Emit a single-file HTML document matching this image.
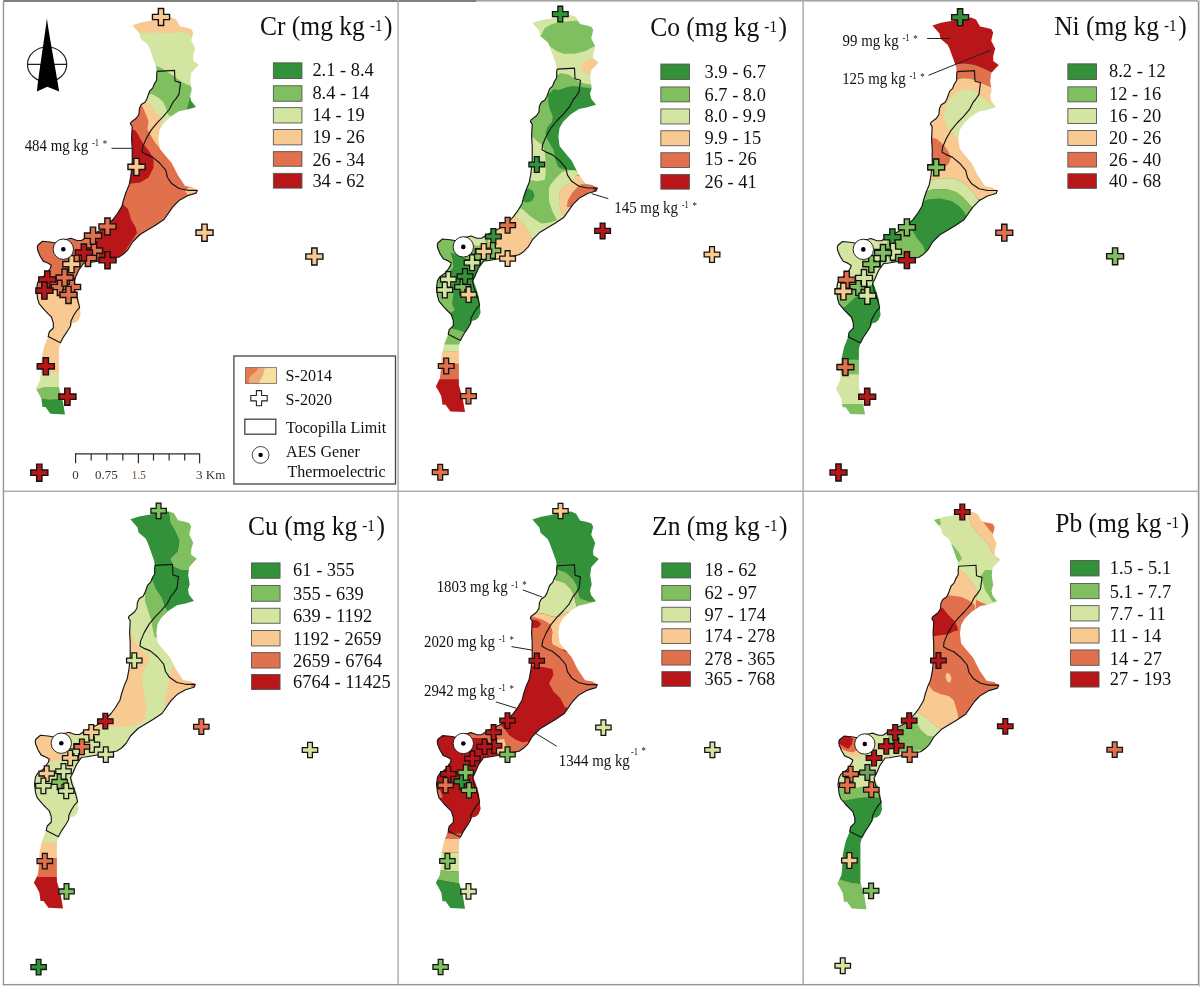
<!DOCTYPE html><html><head><meta charset="utf-8"><style>
html,body{margin:0;padding:0;background:#fff;}
svg{display:block;will-change:transform;}
text{font-family:"Liberation Serif",serif;}
</style></head><body>
<svg width="1200" height="987" viewBox="0 0 1200 987">
<defs>
<mask id="land" maskUnits="userSpaceOnUse" x="0" y="0" width="400" height="500"><polygon points="132.4,25.3 141.0,22.5 150.7,20.8 160.0,18.5 170.9,17.2 176.0,19.3 180.0,26.3 186.0,27.5 191.2,28.9 193.2,32.4 191.2,40.5 195.2,48.6 193.2,55.7 193.2,60.8 198.8,64.8 191.2,72.9 190.2,81.0 191.7,90.2 190.0,96.1 191.2,101.0 196.0,107.0 187.5,109.5 179.0,111.3 170.5,116.7 163.2,124.0 159.6,130.1 158.4,138.6 159.6,148.4 164.4,154.4 171.7,163.0 177.8,175.1 185.1,186.0 192.4,187.3 197.3,190.3 196.0,193.3 187.5,195.8 179.0,200.6 173.0,206.7 164.0,219.5 155.0,225.5 140.0,234.5 132.5,242.0 128.0,249.5 123.5,254.0 119.0,257.0 105.0,260.0 87.5,263.0 83.7,263.2 78.6,270.3 74.6,279.4 73.5,283.4 76.0,290.0 79.0,300.0 80.1,310.8 80.6,314.8 78.6,319.9 75.6,322.4 72.5,323.0 70.5,326.0 67.5,331.0 63.4,337.1 60.4,342.7 58.9,348.7 58.9,387.6 62.6,399.8 63.8,407.0 65.0,414.4 50.4,413.7 45.5,407.0 42.5,407.0 41.3,398.5 38.2,392.5 35.8,388.8 40.0,380.3 40.7,373.0 41.3,359.6 43.1,351.1 44.3,346.2 46.8,340.1 48.2,336.6 49.2,332.0 53.3,328.0 53.3,322.9 51.3,316.8 48.2,313.8 44.2,309.7 39.1,303.7 37.6,298.6 36.5,290.0 37.5,283.0 39.5,279.5 45.5,275.0 48.2,271.3 50.3,268.2 51.3,265.2 48.2,263.2 43.2,261.1 40.1,256.0 37.6,250.0 37.3,247.0 38.0,245.0 42.5,241.3 50.0,242.0 56.0,243.0 62.0,240.0 68.0,239.0 71.0,238.3 77.0,240.5 81.5,240.5 86.0,237.5 95.0,233.0 104.0,228.5 113.0,219.5 117.5,213.5 122.0,206.0 123.5,200.0 126.1,192.1 129.2,184.8 131.0,175.1 132.2,163.0 132.2,148.4 131.6,138.6 132.2,126.5 130.4,124.0 131.0,122.2 136.5,118.0 138.9,114.3 139.5,108.2 141.3,104.6 145.0,102.2 146.8,99.1 149.6,91.2 152.7,88.1 154.2,84.1 156.7,80.0 156.7,74.0 156.2,66.9 154.7,62.8 149.6,48.6 147.6,44.6 140.5,38.5 139.5,33.4" fill="#fff"/></mask>
<path id="cx" d="M-2.65,-8.55h5.3v5.9h5.9v5.3h-5.9v5.9h-5.3v-5.9h-5.9v-5.3h5.9z" stroke="#111" stroke-width="1.4"/>
</defs>
<rect width="1200" height="987" fill="#fff"/>

<g transform="translate(0.0,0.0)">
<g mask="url(#land)">
<rect x="0" y="0" width="400" height="490" fill="#e0714c"/>
<polygon points="100.0,30.0 220.0,30.0 220.0,135.0 100.0,135.0" fill="#d3e5a0"/>
<polygon points="100.0,0.0 220.0,0.0 220.0,37.5 191.7,37.5 189.0,33.4 181.0,31.4 171.0,33.0 150.7,32.4 139.5,33.4 100.0,33.4" fill="#f8c991"/>
<polygon points="156.6,66.1 163.1,68.9 170.4,73.8 176.9,78.6 183.3,82.7 190.6,85.9 192.3,87.6 220.0,90.0 220.0,109.0 186.6,109.4 181.7,111.0 173.6,115.1 170.4,116.7 168.8,115.1 167.1,111.9 165.5,107.0 163.1,102.1 159.0,98.1 151.7,94.0 147.7,94.8 140.0,90.0 140.0,66.0" fill="#7fbf5f"/>
<polygon points="190.0,97.0 205.0,100.0 205.0,110.0 186.6,109.4 188.2,104.6" fill="#33913a"/>
<polygon points="140.4,104.2 143.6,101.3 149.3,103.0 153.4,108.6 155.8,112.7 160.7,116.7 161.5,120.8 160.7,124.8 159.8,128.9 160.0,140.0 159.0,148.0 158.4,147.1 154.7,142.3 151.1,136.2 147.4,128.9 148.6,121.6 145.3,112.7 142.8,107.0" fill="#f8c991"/>
<polygon points="120.0,104.0 140.4,104.2 142.8,107.0 145.3,112.7 148.6,121.6 147.4,128.9 151.1,136.2 154.7,142.3 158.4,147.1 159.0,148.0 165.0,150.0 165.0,200.0 120.0,200.0" fill="#e0714c"/>
<polygon points="120.0,128.0 130.7,128.9 135.5,130.5 138.0,134.6 140.1,138.6 145.0,146.0 149.8,152.0 153.5,159.3 153.5,167.8 148.6,177.5 140.1,182.4 131.6,183.6 120.0,183.0" fill="#b91619"/>
<polygon points="188.8,187.3 196.0,187.3 200.0,191.0 187.5,194.6 185.1,191.0" fill="#f8c991"/>
<polygon points="118.0,200.0 123.5,204.5 128.0,209.0 131.0,219.5 135.5,227.0 137.0,233.0 131.0,242.0 125.0,251.0 119.0,257.0 110.0,262.0 100.0,262.0 97.0,245.0 96.0,234.0 104.0,228.5 113.0,219.5 117.5,213.5" fill="#b91619"/>
<polygon points="30.0,289.0 38.1,294.6 50.3,289.5 56.3,288.5 65.0,290.0 72.0,284.0 90.0,282.0 90.0,373.0 30.0,373.0" fill="#f8c991"/>
<polygon points="30.0,373.0 90.0,373.0 90.0,387.6 58.9,387.0 44.3,387.0 35.8,390.0 30.0,390.0" fill="#d3e5a0"/>
<polygon points="30.0,390.0 35.8,390.0 44.3,387.0 58.9,387.0 90.0,387.6 90.0,400.4 62.6,400.4 56.5,399.2 49.2,399.8 40.7,398.5 30.0,398.5" fill="#7fbf5f"/>
<polygon points="30.0,398.5 40.7,398.5 49.2,399.8 56.5,399.2 62.6,400.4 90.0,400.4 90.0,420.0 30.0,420.0" fill="#33913a"/>
</g>
<polyline points="157.2,71.4 174.5,70.4 175.0,81.0 180.5,82.6 179.0,94.2 175.5,99.3 173.0,102.2 169.3,109.5 163.2,116.7 157.1,122.8 151.1,130.1 146.2,138.6 142.6,147.1 142.0,152.0 146.2,154.4 152.3,156.9 159.6,163.0 165.7,170.2 167.5,177.5 171.7,183.6 179.0,188.5 187.5,190.3 197.3,190.3 196.0,193.3 187.5,195.8 179.0,200.6 173.0,206.7 164.0,219.5 155.0,225.5 140.0,234.5 132.5,242.0 128.0,249.5 123.5,254.0 119.0,257.0 105.0,260.0 87.5,263.0 83.7,263.2 78.6,270.3 74.6,279.4 72.5,283.4 74.0,290.0 77.6,299.6 79.6,307.7 76.6,310.8 73.5,315.8 71.0,320.9 70.5,326.0 67.5,331.0 63.4,337.1 60.4,342.7 48.2,336.6 49.2,332.0 53.3,328.0 53.3,322.9 51.3,316.8 48.2,313.8 44.2,309.7 39.1,303.7 37.6,298.6 36.5,290.0 37.5,283.0 39.5,279.5 45.5,275.0 48.2,271.3 50.3,268.2 51.3,265.2 48.2,263.2 43.2,261.1 40.1,256.0 37.6,250.0 37.3,247.0 38.0,245.0 42.5,241.3 50.0,242.0 56.0,243.0 62.0,240.0 68.0,239.0 71.0,238.3 77.0,240.5 81.5,240.5 86.0,237.5 95.0,233.0 104.0,228.5 113.0,219.5 117.5,213.5 122.0,206.0 123.5,200.0 126.1,192.1 129.2,184.8 131.0,175.1 132.2,163.0 132.2,148.4 131.6,138.6 132.2,126.5 130.4,124.0 131.0,122.2 136.5,118.0 138.9,114.3 139.5,108.2 141.3,104.6 145.0,102.2 146.8,99.1 149.6,91.2 152.7,88.1 154.2,84.1 156.7,80.0 156.7,74.0 157.2,71.4" fill="none" stroke="#151515" stroke-width="1.15" stroke-linejoin="round"/>
<use href="#cx" transform="translate(161.00,17.00) scale(1.000)" fill="#f8c991"/>
<use href="#cx" transform="translate(136.50,166.90) scale(1.000)" fill="#f8c991"/>
<use href="#cx" transform="translate(204.50,232.70) scale(1.000)" fill="#f8c991"/>
<use href="#cx" transform="translate(314.40,256.50) scale(1.000)" fill="#f8c991"/>
<use href="#cx" transform="translate(94.00,250.60) scale(1.000)" fill="#e0714c"/>
<use href="#cx" transform="translate(88.00,258.00) scale(1.000)" fill="#e0714c"/>
<use href="#cx" transform="translate(60.00,287.00) scale(1.000)" fill="#e0714c"/>
<use href="#cx" transform="translate(72.00,287.00) scale(1.000)" fill="#e0714c"/>
<use href="#cx" transform="translate(107.50,226.50) scale(1.000)" fill="#e0714c"/>
<use href="#cx" transform="translate(93.00,235.70) scale(1.000)" fill="#e0714c"/>
<use href="#cx" transform="translate(83.90,252.50) scale(1.000)" fill="#b91619"/>
<use href="#cx" transform="translate(107.50,260.20) scale(1.000)" fill="#b91619"/>
<use href="#cx" transform="translate(71.40,264.10) scale(1.000)" fill="#f8c991"/>
<use href="#cx" transform="translate(64.60,277.60) scale(1.000)" fill="#e0714c"/>
<use href="#cx" transform="translate(47.30,279.50) scale(1.000)" fill="#b91619"/>
<use href="#cx" transform="translate(44.40,290.60) scale(1.000)" fill="#b91619"/>
<use href="#cx" transform="translate(68.50,294.90) scale(1.000)" fill="#e0714c"/>
<use href="#cx" transform="translate(45.80,366.30) scale(1.000)" fill="#b91619"/>
<use href="#cx" transform="translate(67.40,396.70) scale(1.000)" fill="#b91619"/>
<use href="#cx" transform="translate(39.30,472.70) scale(1.000)" fill="#b91619"/>
<circle cx="63.3" cy="249.2" r="10.2" fill="#fff" stroke="#111" stroke-width="0.9"/><circle cx="63.3" cy="249.2" r="2.3" fill="#000"/>
</g>
<g transform="translate(400.0,-2.3)">
<g mask="url(#land)">
<rect x="0" y="0" width="400" height="490" fill="#7fbf5f"/>
<polygon points="120.0,2.3 215.0,2.3 215.0,29.6 192.0,29.6 183.8,26.9 176.5,22.8 167.4,23.7 158.3,24.6 151.0,26.9 144.6,30.6 141.4,37.4 120.0,37.3" fill="#d3e5a0"/>
<polygon points="120.0,42.3 147.3,44.2 150.1,48.8 156.5,53.3 163.8,56.1 174.7,56.1 185.6,53.3 193.8,48.8 215.0,47.3 215.0,87.3 190.2,86.9 185.6,86.0 179.3,84.2 174.7,80.5 168.3,76.9 161.0,75.5 157.4,76.9 120.0,77.3" fill="#d3e5a0"/>
<polygon points="181.1,68.8 183.8,64.3 192.0,60.6 197.5,64.3 196.6,67.0 191.1,71.6 188.4,77.0 183.8,74.3" fill="#f8c991"/>
<polygon points="153.7,91.5 159.2,92.4 166.5,89.6 172.9,88.3 183.8,89.6 190.2,90.6 215.0,90.3 215.0,174.3 174.7,172.4 171.3,172.4 162.4,171.3 158.0,169.1 155.7,162.4 153.5,152.3 147.3,141.6 145.5,135.2 147.3,129.8 151.9,124.3 152.8,118.8 150.1,112.4 148.3,105.1 148.3,96.9" fill="#33913a"/>
<polygon points="120.0,132.3 130.9,138.0 138.2,144.3 142.4,147.3 144.6,153.4 145.7,164.6 145.7,175.7 144.6,182.4 136.8,183.5 130.1,182.4 120.0,182.3" fill="#d3e5a0"/>
<polygon points="122.0,192.3 128.0,190.8 133.0,193.3 134.5,198.3 132.0,203.3 127.0,204.8 122.0,203.3" fill="#33913a"/>
<polygon points="166.9,172.8 175.0,172.8 180.0,176.3 175.8,178.0 171.3,184.7 162.4,189.1 159.1,195.8 159.1,204.7 161.3,213.6 163.5,219.2 165.0,224.3 156.9,222.3 152.4,213.6 149.0,203.6 149.0,190.3 151.0,186.3 156.0,180.3 162.0,174.3" fill="#d3e5a0"/>
<polygon points="175.8,178.0 182.0,178.3 184.0,186.3 180.3,186.9 172.5,194.7 168.0,202.5 166.9,209.2 170.2,209.2 175.0,214.3 165.0,224.3 163.5,219.2 161.3,213.6 159.1,204.7 159.1,195.8 162.4,189.1 171.3,184.7" fill="#f8c991"/>
<polygon points="180.3,186.9 192.5,186.9 198.0,191.3 188.1,195.8 178.0,202.5 170.2,209.2 166.9,209.2 168.0,202.5 172.5,194.7" fill="#e0714c"/>
<polygon points="193.0,189.6 198.0,189.8 198.0,193.1 193.5,193.1" fill="#b91619"/>
<polygon points="110.0,207.3 122.3,211.4 131.2,219.2 141.2,225.9 150.2,224.8 156.9,222.6 165.0,224.3 145.0,242.3 132.3,242.6 129.0,233.7 122.3,224.8 114.5,218.1 105.0,214.3" fill="#d3e5a0"/>
<polygon points="105.0,210.3 114.5,218.1 122.3,224.8 129.0,233.7 132.3,242.6 130.0,252.3 120.0,262.3 100.0,264.3 90.0,257.3 88.0,242.3 95.0,227.3" fill="#f8c991"/>
<polygon points="68.0,239.3 76.0,236.3 84.0,238.3 86.0,245.3 78.0,248.3 70.0,246.3" fill="#d3e5a0"/>
<polygon points="50.3,254.9 60.0,258.3 75.0,264.3 85.0,268.3 90.0,282.3 85.0,302.3 88.0,322.3 70.0,336.3 56.2,331.9 50.5,330.5 45.0,320.3 54.8,312.1 52.0,306.4 53.4,296.5 51.3,289.3 53.4,282.3 50.3,275.1 53.4,269.0 52.4,260.9" fill="#33913a"/>
<polygon points="20.0,346.8 80.0,346.8 80.0,353.9 20.0,353.9" fill="#d3e5a0"/>
<polygon points="20.0,353.9 80.0,353.9 80.0,366.0 20.0,366.0" fill="#f8c991"/>
<polygon points="20.0,366.0 80.0,366.0 80.0,381.6 20.0,381.6" fill="#e0714c"/>
<polygon points="20.0,381.6 80.0,381.6 80.0,432.3 20.0,432.3" fill="#b91619"/>
</g>
<polyline points="157.2,71.4 174.5,70.4 175.0,81.0 180.5,82.6 179.0,94.2 175.5,99.3 173.0,102.2 169.3,109.5 163.2,116.7 157.1,122.8 151.1,130.1 146.2,138.6 142.6,147.1 142.0,152.0 146.2,154.4 152.3,156.9 159.6,163.0 165.7,170.2 167.5,177.5 171.7,183.6 179.0,188.5 187.5,190.3 197.3,190.3 196.0,193.3 187.5,195.8 179.0,200.6 173.0,206.7 164.0,219.5 155.0,225.5 140.0,234.5 132.5,242.0 128.0,249.5 123.5,254.0 119.0,257.0 105.0,260.0 87.5,263.0 83.7,263.2 78.6,270.3 74.6,279.4 72.5,283.4 74.0,290.0 77.6,299.6 79.6,307.7 76.6,310.8 73.5,315.8 71.0,320.9 70.5,326.0 67.5,331.0 63.4,337.1 60.4,342.7 48.2,336.6 49.2,332.0 53.3,328.0 53.3,322.9 51.3,316.8 48.2,313.8 44.2,309.7 39.1,303.7 37.6,298.6 36.5,290.0 37.5,283.0 39.5,279.5 45.5,275.0 48.2,271.3 50.3,268.2 51.3,265.2 48.2,263.2 43.2,261.1 40.1,256.0 37.6,250.0 37.3,247.0 38.0,245.0 42.5,241.3 50.0,242.0 56.0,243.0 62.0,240.0 68.0,239.0 71.0,238.3 77.0,240.5 81.5,240.5 86.0,237.5 95.0,233.0 104.0,228.5 113.0,219.5 117.5,213.5 122.0,206.0 123.5,200.0 126.1,192.1 129.2,184.8 131.0,175.1 132.2,163.0 132.2,148.4 131.6,138.6 132.2,126.5 130.4,124.0 131.0,122.2 136.5,118.0 138.9,114.3 139.5,108.2 141.3,104.6 145.0,102.2 146.8,99.1 149.6,91.2 152.7,88.1 154.2,84.1 156.7,80.0 156.7,74.0 157.2,71.4" fill="none" stroke="#151515" stroke-width="1.15" stroke-linejoin="round"/>
<use href="#cx" transform="translate(160.30,16.40) scale(0.919)" fill="#33913a"/>
<use href="#cx" transform="translate(136.80,166.80) scale(0.919)" fill="#33913a"/>
<use href="#cx" transform="translate(107.60,227.50) scale(0.919)" fill="#e0714c"/>
<use href="#cx" transform="translate(93.40,238.80) scale(0.919)" fill="#33913a"/>
<use href="#cx" transform="translate(92.90,252.80) scale(0.919)" fill="#7fbf5f"/>
<use href="#cx" transform="translate(77.70,258.90) scale(0.919)" fill="#7fbf5f"/>
<use href="#cx" transform="translate(83.80,253.80) scale(0.919)" fill="#f8c991"/>
<use href="#cx" transform="translate(107.60,260.90) scale(0.919)" fill="#f8c991"/>
<use href="#cx" transform="translate(62.50,289.30) scale(0.919)" fill="#7fbf5f"/>
<use href="#cx" transform="translate(72.10,265.00) scale(0.919)" fill="#d3e5a0"/>
<use href="#cx" transform="translate(65.00,278.70) scale(0.919)" fill="#33913a"/>
<use href="#cx" transform="translate(48.30,281.70) scale(0.919)" fill="#d3e5a0"/>
<use href="#cx" transform="translate(44.80,292.30) scale(0.919)" fill="#d3e5a0"/>
<use href="#cx" transform="translate(68.60,296.90) scale(0.919)" fill="#f8c991"/>
<use href="#cx" transform="translate(202.60,233.20) scale(0.919)" fill="#b91619"/>
<use href="#cx" transform="translate(312.00,256.80) scale(0.919)" fill="#f8c991"/>
<use href="#cx" transform="translate(46.20,368.30) scale(0.919)" fill="#e0714c"/>
<use href="#cx" transform="translate(68.50,398.40) scale(0.919)" fill="#e0714c"/>
<use href="#cx" transform="translate(40.20,474.50) scale(0.919)" fill="#e0714c"/>
<circle cx="63.3" cy="249.2" r="10.2" fill="#fff" stroke="#111" stroke-width="0.9"/><circle cx="63.3" cy="249.2" r="2.3" fill="#000"/>
</g>
<g transform="translate(800.0,0.2)">
<g mask="url(#land)">
<rect x="0" y="0" width="400" height="490" fill="#33913a"/>
<polygon points="120.0,-0.2 210.0,-0.2 210.0,72.8 191.1,72.1 183.8,68.5 174.7,64.8 165.6,63.5 155.6,63.9 120.0,63.8" fill="#b91619"/>
<polygon points="120.0,63.8 155.6,63.9 165.6,63.5 174.7,64.8 183.8,68.5 191.1,72.1 210.0,72.8 210.0,87.8 190.2,86.7 183.8,84.0 176.5,80.8 171.0,78.5 162.8,78.0 157.4,79.4 120.0,79.8" fill="#e0714c"/>
<polygon points="120.0,79.8 157.4,79.4 162.8,78.0 171.0,78.5 176.5,80.8 183.8,84.0 190.2,86.7 210.0,87.8 210.0,199.8 177.9,199.1 173.3,192.7 167.9,186.3 160.6,180.8 151.5,178.1 138.7,178.1 129.6,180.8 115.0,181.8" fill="#f8c991"/>
<polygon points="146.4,105.8 150.1,97.6 156.5,92.2 163.8,89.4 171.0,89.9 176.5,92.2 182.0,96.7 187.5,101.3 192.9,105.8 200.0,107.8 200.0,129.8 162.0,139.8 157.4,137.8 154.6,135.0 150.1,130.5 145.5,123.2 143.7,114.1" fill="#d3e5a0"/>
<polygon points="130.5,137.1 136.9,138.9 144.2,145.3 148.7,151.7 150.6,158.1 148.7,163.5 144.2,167.2 137.8,169.0 132.3,169.9 120.0,169.8 120.0,136.8" fill="#e0714c"/>
<polygon points="115.0,181.8 129.6,180.8 138.7,178.1 151.5,178.1 160.6,180.8 167.9,186.3 173.3,192.7 177.9,199.1 190.0,209.8 173.3,209.1 169.7,204.5 163.3,197.3 156.0,191.8 146.9,189.1 133.2,189.1 124.1,191.8 115.0,192.8" fill="#d3e5a0"/>
<polygon points="115.0,192.8 124.1,191.8 133.2,189.1 146.9,189.1 156.0,191.8 163.3,197.3 169.7,204.5 173.3,209.1 190.0,214.8 167.0,217.3 164.2,211.8 158.8,205.5 151.5,200.9 140.5,198.2 128.7,199.1 120.5,201.8 115.0,202.8" fill="#7fbf5f"/>
<polygon points="25.0,229.8 85.0,231.8 93.0,239.8 91.0,261.8 80.0,271.8 72.0,284.8 60.0,287.8 50.0,286.8 25.0,289.8" fill="#d3e5a0"/>
<polygon points="92.0,229.8 112.0,229.9 117.5,238.8 123.1,245.5 125.3,252.2 120.0,261.8 100.0,262.8 88.0,257.8 86.0,244.8" fill="#7fbf5f"/>
<polygon points="25.0,286.8 50.0,286.8 60.0,287.8 71.8,287.8 61.8,292.3 52.9,299.0 44.8,306.9 25.0,309.8" fill="#7fbf5f"/>
<polygon points="20.0,359.6 80.0,359.6 80.0,374.1 20.0,374.1" fill="#7fbf5f"/>
<polygon points="20.0,374.1 80.0,374.1 80.0,404.4 20.0,404.4" fill="#d3e5a0"/>
<polygon points="20.0,404.4 80.0,404.4 80.0,429.8 20.0,429.8" fill="#7fbf5f"/>
</g>
<polyline points="157.2,71.4 174.5,70.4 175.0,81.0 180.5,82.6 179.0,94.2 175.5,99.3 173.0,102.2 169.3,109.5 163.2,116.7 157.1,122.8 151.1,130.1 146.2,138.6 142.6,147.1 142.0,152.0 146.2,154.4 152.3,156.9 159.6,163.0 165.7,170.2 167.5,177.5 171.7,183.6 179.0,188.5 187.5,190.3 197.3,190.3 196.0,193.3 187.5,195.8 179.0,200.6 173.0,206.7 164.0,219.5 155.0,225.5 140.0,234.5 132.5,242.0 128.0,249.5 123.5,254.0 119.0,257.0 105.0,260.0 87.5,263.0 83.7,263.2 78.6,270.3 74.6,279.4 72.5,283.4 74.0,290.0 77.6,299.6 79.6,307.7 76.6,310.8 73.5,315.8 71.0,320.9 70.5,326.0 67.5,331.0 63.4,337.1 60.4,342.7 48.2,336.6 49.2,332.0 53.3,328.0 53.3,322.9 51.3,316.8 48.2,313.8 44.2,309.7 39.1,303.7 37.6,298.6 36.5,290.0 37.5,283.0 39.5,279.5 45.5,275.0 48.2,271.3 50.3,268.2 51.3,265.2 48.2,263.2 43.2,261.1 40.1,256.0 37.6,250.0 37.3,247.0 38.0,245.0 42.5,241.3 50.0,242.0 56.0,243.0 62.0,240.0 68.0,239.0 71.0,238.3 77.0,240.5 81.5,240.5 86.0,237.5 95.0,233.0 104.0,228.5 113.0,219.5 117.5,213.5 122.0,206.0 123.5,200.0 126.1,192.1 129.2,184.8 131.0,175.1 132.2,163.0 132.2,148.4 131.6,138.6 132.2,126.5 130.4,124.0 131.0,122.2 136.5,118.0 138.9,114.3 139.5,108.2 141.3,104.6 145.0,102.2 146.8,99.1 149.6,91.2 152.7,88.1 154.2,84.1 156.7,80.0 156.7,74.0 157.2,71.4" fill="none" stroke="#151515" stroke-width="1.15" stroke-linejoin="round"/>
<use href="#cx" transform="translate(160.10,17.00) scale(0.989)" fill="#33913a"/>
<use href="#cx" transform="translate(136.20,167.20) scale(0.989)" fill="#7fbf5f"/>
<use href="#cx" transform="translate(106.90,227.10) scale(0.989)" fill="#7fbf5f"/>
<use href="#cx" transform="translate(92.40,237.10) scale(0.989)" fill="#33913a"/>
<use href="#cx" transform="translate(93.00,251.60) scale(0.989)" fill="#d3e5a0"/>
<use href="#cx" transform="translate(77.40,257.80) scale(0.989)" fill="#d3e5a0"/>
<use href="#cx" transform="translate(83.00,252.70) scale(0.989)" fill="#7fbf5f"/>
<use href="#cx" transform="translate(106.90,260.00) scale(0.989)" fill="#b91619"/>
<use href="#cx" transform="translate(71.30,263.90) scale(0.989)" fill="#7fbf5f"/>
<use href="#cx" transform="translate(58.40,286.70) scale(0.989)" fill="#7fbf5f"/>
<use href="#cx" transform="translate(64.00,277.80) scale(0.989)" fill="#d3e5a0"/>
<use href="#cx" transform="translate(46.70,279.50) scale(0.989)" fill="#e0714c"/>
<use href="#cx" transform="translate(43.40,291.20) scale(0.989)" fill="#f8c991"/>
<use href="#cx" transform="translate(67.40,295.60) scale(0.989)" fill="#d3e5a0"/>
<use href="#cx" transform="translate(45.40,366.90) scale(0.989)" fill="#e0714c"/>
<use href="#cx" transform="translate(67.20,396.50) scale(0.989)" fill="#b91619"/>
<use href="#cx" transform="translate(204.30,232.50) scale(0.989)" fill="#e0714c"/>
<use href="#cx" transform="translate(315.10,256.10) scale(0.989)" fill="#7fbf5f"/>
<use href="#cx" transform="translate(38.50,472.30) scale(0.989)" fill="#b91619"/>
<circle cx="63.3" cy="249.2" r="10.2" fill="#fff" stroke="#111" stroke-width="0.9"/><circle cx="63.3" cy="249.2" r="2.3" fill="#000"/>
</g>
<g transform="translate(-2.0,494.0)">
<g mask="url(#land)">
<rect x="0" y="0" width="400" height="490" fill="#d3e5a0"/>
<polygon points="122.0,11.0 171.3,17.7 172.8,28.4 177.3,36.0 181.9,46.6 180.4,57.2 172.8,64.8 175.8,72.4 183.4,75.5 202.0,76.0 202.0,111.0 177.0,116.0 170.0,118.0 166.7,113.5 163.7,104.3 157.6,95.2 154.6,87.6 150.0,82.0 122.0,82.0" fill="#33913a"/>
<polygon points="171.3,17.7 177.0,11.0 202.0,11.0 202.0,75.5 183.4,75.5 175.8,72.4 172.8,64.8 180.4,57.2 181.9,46.6 177.3,36.0 172.8,28.4" fill="#7fbf5f"/>
<polygon points="142.0,82.0 150.0,82.0 154.6,87.6 157.6,95.2 163.7,104.3 166.7,113.5 170.0,118.0 165.0,124.0 161.6,128.0 160.6,134.0 159.6,143.2 156.6,143.2 154.6,134.1 153.0,125.6 150.0,116.5 147.0,107.4 147.0,98.3 142.0,96.0" fill="#7fbf5f"/>
<polygon points="117.0,131.0 132.3,136.1 137.3,148.3 142.4,155.4 149.5,160.4 151.5,166.5 147.5,173.6 144.4,180.7 144.4,191.9 146.4,203.0 148.5,214.1 147.5,224.0 142.0,230.0 137.0,231.6 125.1,233.3 111.7,233.3 98.3,235.0 87.0,238.0 82.0,206.0 102.0,186.0 117.0,146.0" fill="#f8c991"/>
<polygon points="174.8,173.6 171.8,180.7 170.8,188.8 168.7,199.0 166.7,207.0 165.7,212.1 172.0,212.0 202.0,196.0 202.0,171.0 182.0,166.0" fill="#f8c991"/>
<polygon points="193.5,188.5 199.0,190.0 197.0,193.5 193.0,192.5" fill="#e0714c"/>
<polygon points="32.0,234.0 69.4,237.0 73.0,238.3 73.8,255.0 69.4,259.5 66.0,265.1 54.9,267.9 49.3,268.4 32.0,268.0" fill="#f8c991"/>
<polygon points="22.0,348.7 82.0,348.7 82.0,363.9 22.0,363.9" fill="#f8c991"/>
<polygon points="22.0,363.9 82.0,363.9 82.0,383.0 22.0,383.0" fill="#e0714c"/>
<polygon points="22.0,383.0 82.0,383.0 82.0,436.0 22.0,436.0" fill="#b91619"/>
</g>
<polyline points="157.2,71.4 174.5,70.4 175.0,81.0 180.5,82.6 179.0,94.2 175.5,99.3 173.0,102.2 169.3,109.5 163.2,116.7 157.1,122.8 151.1,130.1 146.2,138.6 142.6,147.1 142.0,152.0 146.2,154.4 152.3,156.9 159.6,163.0 165.7,170.2 167.5,177.5 171.7,183.6 179.0,188.5 187.5,190.3 197.3,190.3 196.0,193.3 187.5,195.8 179.0,200.6 173.0,206.7 164.0,219.5 155.0,225.5 140.0,234.5 132.5,242.0 128.0,249.5 123.5,254.0 119.0,257.0 105.0,260.0 87.5,263.0 83.7,263.2 78.6,270.3 74.6,279.4 72.5,283.4 74.0,290.0 77.6,299.6 79.6,307.7 76.6,310.8 73.5,315.8 71.0,320.9 70.5,326.0 67.5,331.0 63.4,337.1 60.4,342.7 48.2,336.6 49.2,332.0 53.3,328.0 53.3,322.9 51.3,316.8 48.2,313.8 44.2,309.7 39.1,303.7 37.6,298.6 36.5,290.0 37.5,283.0 39.5,279.5 45.5,275.0 48.2,271.3 50.3,268.2 51.3,265.2 48.2,263.2 43.2,261.1 40.1,256.0 37.6,250.0 37.3,247.0 38.0,245.0 42.5,241.3 50.0,242.0 56.0,243.0 62.0,240.0 68.0,239.0 71.0,238.3 77.0,240.5 81.5,240.5 86.0,237.5 95.0,233.0 104.0,228.5 113.0,219.5 117.5,213.5 122.0,206.0 123.5,200.0 126.1,192.1 129.2,184.8 131.0,175.1 132.2,163.0 132.2,148.4 131.6,138.6 132.2,126.5 130.4,124.0 131.0,122.2 136.5,118.0 138.9,114.3 139.5,108.2 141.3,104.6 145.0,102.2 146.8,99.1 149.6,91.2 152.7,88.1 154.2,84.1 156.7,80.0 156.7,74.0 157.2,71.4" fill="none" stroke="#151515" stroke-width="1.15" stroke-linejoin="round"/>
<use href="#cx" transform="translate(160.60,16.80) scale(0.903)" fill="#7fbf5f"/>
<use href="#cx" transform="translate(136.30,166.50) scale(0.903)" fill="#d3e5a0"/>
<use href="#cx" transform="translate(107.30,227.20) scale(0.903)" fill="#b91619"/>
<use href="#cx" transform="translate(93.90,250.60) scale(0.903)" fill="#d3e5a0"/>
<use href="#cx" transform="translate(78.30,257.30) scale(0.903)" fill="#d3e5a0"/>
<use href="#cx" transform="translate(93.30,238.30) scale(0.903)" fill="#f8c991"/>
<use href="#cx" transform="translate(83.90,252.80) scale(0.903)" fill="#e0714c"/>
<use href="#cx" transform="translate(107.80,260.60) scale(0.903)" fill="#d3e5a0"/>
<use href="#cx" transform="translate(72.20,264.00) scale(0.903)" fill="#f8c991"/>
<use href="#cx" transform="translate(61.60,287.90) scale(0.903)" fill="#7fbf5f"/>
<use href="#cx" transform="translate(65.50,277.30) scale(0.903)" fill="#d3e5a0"/>
<use href="#cx" transform="translate(48.70,279.60) scale(0.903)" fill="#f8c991"/>
<use href="#cx" transform="translate(45.40,291.80) scale(0.903)" fill="#d3e5a0"/>
<use href="#cx" transform="translate(68.20,296.90) scale(0.903)" fill="#d3e5a0"/>
<use href="#cx" transform="translate(46.80,367.10) scale(0.903)" fill="#e0714c"/>
<use href="#cx" transform="translate(68.50,397.40) scale(0.903)" fill="#7fbf5f"/>
<use href="#cx" transform="translate(203.30,232.70) scale(0.903)" fill="#e0714c"/>
<use href="#cx" transform="translate(312.00,256.00) scale(0.903)" fill="#d3e5a0"/>
<use href="#cx" transform="translate(40.60,473.10) scale(0.903)" fill="#33913a"/>
<circle cx="63.3" cy="249.2" r="10.2" fill="#fff" stroke="#111" stroke-width="0.9"/><circle cx="63.3" cy="249.2" r="2.3" fill="#000"/>
</g>
<g transform="translate(400.0,494.3)">
<g mask="url(#land)">
<rect x="0" y="0" width="400" height="490" fill="#b91619"/>
<polygon points="120.0,10.7 210.0,10.7 210.0,107.1 195.1,107.1 189.0,107.1 179.9,104.0 176.9,94.9 176.9,91.9 173.8,85.8 166.2,78.2 157.1,75.2 120.0,75.7" fill="#33913a"/>
<polygon points="120.0,75.7 157.1,75.2 166.2,78.2 173.8,85.8 176.9,91.9 176.9,94.9 179.9,104.0 189.0,107.1 210.0,107.1 210.0,111.7 186.0,110.1 177.0,113.2 175.3,107.1 173.8,101.0 170.8,94.9 164.7,88.8 155.6,85.8 120.0,85.7" fill="#7fbf5f"/>
<polygon points="120.0,85.7 155.6,85.8 164.7,88.8 170.8,94.9 173.8,101.0 175.3,107.1 177.0,113.2 186.0,110.1 210.0,111.7 210.0,125.7 166.9,117.9 159.1,122.4 152.4,122.4 142.4,119.0 132.3,120.2 120.0,120.7" fill="#d3e5a0"/>
<polygon points="120.0,120.7 132.3,120.2 142.4,119.0 152.4,122.4 159.1,122.4 166.9,117.9 200.0,125.7 200.0,165.7 161.3,154.7 159.1,153.6 152.4,150.3 151.3,144.7 152.4,138.0 150.2,130.2 142.4,125.7 132.3,122.4 120.0,122.7" fill="#f8c991"/>
<polygon points="120.0,122.7 132.3,122.4 142.4,125.7 150.2,130.2 152.4,138.0 151.3,144.7 152.4,150.3 159.1,153.6 161.3,154.7 166.0,157.7 210.0,165.7 210.0,225.7 164.7,212.7 160.2,203.8 153.5,197.1 149.1,189.3 153.5,180.4 152.4,174.8 142.4,172.6 132.3,171.4 120.0,170.7" fill="#e0714c"/>
<polygon points="132.3,125.2 137.9,126.3 141.2,129.7 137.9,133.5 132.3,133.5 125.0,130.7" fill="#b91619"/>
<polygon points="69.0,236.7 87.0,236.7 94.0,231.7 100.0,229.7 105.3,235.8 109.7,241.4 116.4,245.8 123.1,248.1 127.6,246.9 130.0,253.7 115.0,261.7 100.0,261.7 92.0,253.7 86.0,243.7 70.0,243.7" fill="#e0714c"/>
<polygon points="96.0,245.7 104.0,244.7 106.0,251.7 104.0,258.7 96.0,258.7 94.0,251.7" fill="#f8c991"/>
<polygon points="30.0,295.7 40.0,295.7 43.0,302.7 38.0,304.7 30.0,303.7" fill="#e0714c"/>
<polygon points="20.0,339.2 80.0,339.2 80.0,344.4 20.0,344.4" fill="#e0714c"/>
<polygon points="20.0,344.4 80.0,344.4 80.0,358.3 20.0,358.3" fill="#f8c991"/>
<polygon points="20.0,358.3 80.0,358.3 80.0,376.2 59.3,377.4 40.8,376.1 20.0,375.7" fill="#d3e5a0"/>
<polygon points="20.0,375.7 40.8,376.1 59.3,377.4 80.0,376.2 80.0,389.7 59.3,389.2 47.4,387.3 36.9,385.3 20.0,384.7" fill="#7fbf5f"/>
<polygon points="20.0,384.7 36.9,385.3 47.4,387.3 59.3,389.2 80.0,389.7 80.0,435.7 20.0,435.7" fill="#33913a"/>
</g>
<polyline points="157.2,71.4 174.5,70.4 175.0,81.0 180.5,82.6 179.0,94.2 175.5,99.3 173.0,102.2 169.3,109.5 163.2,116.7 157.1,122.8 151.1,130.1 146.2,138.6 142.6,147.1 142.0,152.0 146.2,154.4 152.3,156.9 159.6,163.0 165.7,170.2 167.5,177.5 171.7,183.6 179.0,188.5 187.5,190.3 197.3,190.3 196.0,193.3 187.5,195.8 179.0,200.6 173.0,206.7 164.0,219.5 155.0,225.5 140.0,234.5 132.5,242.0 128.0,249.5 123.5,254.0 119.0,257.0 105.0,260.0 87.5,263.0 83.7,263.2 78.6,270.3 74.6,279.4 72.5,283.4 74.0,290.0 77.6,299.6 79.6,307.7 76.6,310.8 73.5,315.8 71.0,320.9 70.5,326.0 67.5,331.0 63.4,337.1 60.4,342.7 48.2,336.6 49.2,332.0 53.3,328.0 53.3,322.9 51.3,316.8 48.2,313.8 44.2,309.7 39.1,303.7 37.6,298.6 36.5,290.0 37.5,283.0 39.5,279.5 45.5,275.0 48.2,271.3 50.3,268.2 51.3,265.2 48.2,263.2 43.2,261.1 40.1,256.0 37.6,250.0 37.3,247.0 38.0,245.0 42.5,241.3 50.0,242.0 56.0,243.0 62.0,240.0 68.0,239.0 71.0,238.3 77.0,240.5 81.5,240.5 86.0,237.5 95.0,233.0 104.0,228.5 113.0,219.5 117.5,213.5 122.0,206.0 123.5,200.0 126.1,192.1 129.2,184.8 131.0,175.1 132.2,163.0 132.2,148.4 131.6,138.6 132.2,126.5 130.4,124.0 131.0,122.2 136.5,118.0 138.9,114.3 139.5,108.2 141.3,104.6 145.0,102.2 146.8,99.1 149.6,91.2 152.7,88.1 154.2,84.1 156.7,80.0 156.7,74.0 157.2,71.4" fill="none" stroke="#151515" stroke-width="1.15" stroke-linejoin="round"/>
<use href="#cx" transform="translate(160.50,16.70) scale(0.897)" fill="#f8c991"/>
<use href="#cx" transform="translate(136.80,166.40) scale(0.897)" fill="#b91619"/>
<use href="#cx" transform="translate(107.50,226.30) scale(0.897)" fill="#b91619"/>
<use href="#cx" transform="translate(94.10,251.40) scale(0.897)" fill="#b91619"/>
<use href="#cx" transform="translate(93.60,238.00) scale(0.897)" fill="#b91619"/>
<use href="#cx" transform="translate(84.60,252.50) scale(0.897)" fill="#b91619"/>
<use href="#cx" transform="translate(107.50,260.30) scale(0.897)" fill="#7fbf5f"/>
<use href="#cx" transform="translate(72.40,264.20) scale(0.897)" fill="#b91619"/>
<use href="#cx" transform="translate(61.80,287.10) scale(0.897)" fill="#33913a"/>
<use href="#cx" transform="translate(65.70,278.20) scale(0.897)" fill="#7fbf5f"/>
<use href="#cx" transform="translate(48.40,279.80) scale(0.897)" fill="#b91619"/>
<use href="#cx" transform="translate(45.60,291.00) scale(0.897)" fill="#e0714c"/>
<use href="#cx" transform="translate(69.00,296.00) scale(0.897)" fill="#7fbf5f"/>
<use href="#cx" transform="translate(47.40,366.80) scale(0.897)" fill="#7fbf5f"/>
<use href="#cx" transform="translate(68.50,397.10) scale(0.897)" fill="#d3e5a0"/>
<use href="#cx" transform="translate(203.40,233.30) scale(0.897)" fill="#d3e5a0"/>
<use href="#cx" transform="translate(312.40,255.60) scale(0.897)" fill="#d3e5a0"/>
<use href="#cx" transform="translate(40.60,472.70) scale(0.897)" fill="#7fbf5f"/>
<circle cx="63.3" cy="249.2" r="10.2" fill="#fff" stroke="#111" stroke-width="0.9"/><circle cx="63.3" cy="249.2" r="2.3" fill="#000"/>
</g>
<g transform="translate(801.5,494.8)">
<g mask="url(#land)">
<rect x="0" y="0" width="400" height="490" fill="#e0714c"/>
<polygon points="118.5,10.2 166.7,10.2 166.7,16.9 169.7,30.6 177.3,39.7 184.9,47.3 191.0,58.0 197.1,65.5 208.5,70.2 208.5,115.2 188.5,111.2 174.5,105.2 175.8,97.5 174.3,94.4 169.7,86.8 163.7,79.2 157.6,74.7 118.5,75.2" fill="#d3e5a0"/>
<polygon points="166.7,10.2 208.5,10.2 208.5,70.2 197.1,65.5 191.0,58.0 184.9,47.3 177.3,39.7 169.7,30.6 166.7,16.9" fill="#f8c991"/>
<polygon points="181.9,27.6 191.0,28.6 195.5,33.6 191.5,39.2 188.0,35.2" fill="#e0714c"/>
<polygon points="126.5,23.2 138.5,24.2 139.5,29.2 134.5,33.2" fill="#7fbf5f"/>
<polygon points="150.0,48.8 157.6,58.0 160.6,64.0 157.6,67.1 154.5,64.0 148.5,55.2" fill="#7fbf5f"/>
<polygon points="179.5,81.2 183.5,75.2 190.5,75.2 192.5,90.2 197.5,105.2 191.5,107.2 183.5,95.2" fill="#7fbf5f"/>
<polygon points="118.5,75.2 157.6,74.7 163.7,79.2 169.7,86.8 174.3,94.4 175.8,97.5 174.5,105.2 174.3,115.7 172.8,109.6 166.7,105.1 159.1,102.0 146.9,100.5 140.1,105.1 118.5,105.2" fill="#f8c991"/>
<polygon points="134.8,117.2 140.9,112.7 146.9,120.3 153.0,126.3 156.1,132.4 156.1,136.2 153.1,136.3 147.0,139.4 138.9,140.4 132.8,141.4 123.5,141.2 123.5,117.2" fill="#b91619"/>
<polygon points="145.0,178.2 148.0,178.7 150.0,183.2 149.0,187.7 146.0,187.2 144.0,182.7" fill="#f8c991"/>
<polygon points="113.5,180.2 126.7,190.0 131.8,196.1 138.9,199.2 147.0,201.2 152.1,205.2 154.1,211.3 156.1,218.4 157.1,225.2 143.5,237.2 133.5,230.8 123.8,221.9 114.5,216.2 103.5,205.2 108.5,185.2" fill="#f8c991"/>
<polygon points="48.5,205.2 103.5,205.2 114.5,216.2 123.8,221.9 133.5,230.8 143.5,237.2 128.5,255.2 98.5,265.2 78.5,295.2 33.5,295.2 33.5,225.2" fill="#d3e5a0"/>
<polygon points="101.5,228.6 114.9,227.5 119.4,235.3 126.1,240.9 133.5,242.0 138.5,250.2 120.5,255.2 98.5,257.2 88.5,250.2 86.5,242.2 93.5,233.2" fill="#7fbf5f"/>
<polygon points="33.5,235.2 48.5,237.2 56.5,243.2 59.5,250.2 60.5,261.2 53.5,262.7 46.5,260.2 38.5,255.2 33.5,250.2" fill="#f8c991"/>
<polygon points="33.5,235.2 48.5,237.2 54.5,244.2 56.5,250.2 55.5,255.2 51.4,257.6 44.5,256.2 36.5,252.2" fill="#e0714c"/>
<polygon points="33.5,235.2 45.8,240.4 51.4,244.2 50.3,249.8 46.9,254.3 42.5,252.0 36.5,248.2" fill="#b91619"/>
<polygon points="28.5,294.2 40.2,294.4 51.4,293.3 74.8,289.9 88.5,290.2 88.5,305.2 79.2,303.3 70.3,302.2 56.9,303.3 45.8,305.5 28.5,306.2" fill="#7fbf5f"/>
<polygon points="28.5,306.2 45.8,305.5 56.9,303.3 70.3,302.2 79.2,303.3 88.5,305.2 88.5,389.2 60.4,389.4 49.9,388.1 38.0,384.8 28.5,385.2" fill="#33913a"/>
<polygon points="28.5,385.2 38.0,384.8 49.9,388.1 60.4,389.4 88.5,389.2 88.5,425.2 28.5,425.2" fill="#7fbf5f"/>
</g>
<polyline points="157.2,71.4 174.5,70.4 175.0,81.0 180.5,82.6 179.0,94.2 175.5,99.3 173.0,102.2 169.3,109.5 163.2,116.7 157.1,122.8 151.1,130.1 146.2,138.6 142.6,147.1 142.0,152.0 146.2,154.4 152.3,156.9 159.6,163.0 165.7,170.2 167.5,177.5 171.7,183.6 179.0,188.5 187.5,190.3 197.3,190.3 196.0,193.3 187.5,195.8 179.0,200.6 173.0,206.7 164.0,219.5 155.0,225.5 140.0,234.5 132.5,242.0 128.0,249.5 123.5,254.0 119.0,257.0 105.0,260.0 87.5,263.0 83.7,263.2 78.6,270.3 74.6,279.4 72.5,283.4 74.0,290.0 77.6,299.6 79.6,307.7 76.6,310.8 73.5,315.8 71.0,320.9 70.5,326.0 67.5,331.0 63.4,337.1 60.4,342.7 48.2,336.6 49.2,332.0 53.3,328.0 53.3,322.9 51.3,316.8 48.2,313.8 44.2,309.7 39.1,303.7 37.6,298.6 36.5,290.0 37.5,283.0 39.5,279.5 45.5,275.0 48.2,271.3 50.3,268.2 51.3,265.2 48.2,263.2 43.2,261.1 40.1,256.0 37.6,250.0 37.3,247.0 38.0,245.0 42.5,241.3 50.0,242.0 56.0,243.0 62.0,240.0 68.0,239.0 71.0,238.3 77.0,240.5 81.5,240.5 86.0,237.5 95.0,233.0 104.0,228.5 113.0,219.5 117.5,213.5 122.0,206.0 123.5,200.0 126.1,192.1 129.2,184.8 131.0,175.1 132.2,163.0 132.2,148.4 131.6,138.6 132.2,126.5 130.4,124.0 131.0,122.2 136.5,118.0 138.9,114.3 139.5,108.2 141.3,104.6 145.0,102.2 146.8,99.1 149.6,91.2 152.7,88.1 154.2,84.1 156.7,80.0 156.7,74.0 157.2,71.4" fill="none" stroke="#151515" stroke-width="1.15" stroke-linejoin="round"/>
<use href="#cx" transform="translate(160.80,17.20) scale(0.908)" fill="#b91619"/>
<use href="#cx" transform="translate(136.90,165.70) scale(0.908)" fill="#b91619"/>
<use href="#cx" transform="translate(107.70,225.80) scale(0.908)" fill="#b91619"/>
<use href="#cx" transform="translate(94.80,250.90) scale(0.908)" fill="#b91619"/>
<use href="#cx" transform="translate(93.70,237.50) scale(0.908)" fill="#b91619"/>
<use href="#cx" transform="translate(84.80,251.50) scale(0.908)" fill="#b91619"/>
<use href="#cx" transform="translate(108.20,259.80) scale(0.908)" fill="#e0714c"/>
<use href="#cx" transform="translate(72.50,263.20) scale(0.908)" fill="#b91619"/>
<use href="#cx" transform="translate(65.90,277.70) scale(0.908)" fill="#6f9f5e"/>
<use href="#cx" transform="translate(49.10,279.30) scale(0.908)" fill="#e0714c"/>
<use href="#cx" transform="translate(45.80,290.50) scale(0.908)" fill="#e0714c"/>
<use href="#cx" transform="translate(69.80,294.90) scale(0.908)" fill="#e0714c"/>
<use href="#cx" transform="translate(47.90,365.70) scale(0.908)" fill="#f8c991"/>
<use href="#cx" transform="translate(69.60,396.00) scale(0.908)" fill="#7fbf5f"/>
<use href="#cx" transform="translate(203.80,231.50) scale(0.908)" fill="#b91619"/>
<use href="#cx" transform="translate(313.20,254.90) scale(0.908)" fill="#e0714c"/>
<use href="#cx" transform="translate(41.25,470.95) scale(0.908)" fill="#d3e5a0"/>
<circle cx="63.3" cy="249.2" r="10.2" fill="#fff" stroke="#111" stroke-width="0.9"/><circle cx="63.3" cy="249.2" r="2.3" fill="#000"/>
</g>
<text transform="translate(259.98,34.90) scale(0.945,1)" font-size="27.00" fill="#111" >Cr (mg kg<tspan font-size="16" dx="5.4" dy="-4.3">-1</tspan><tspan font-size="27" dx="1.7" dy="4.3">)</tspan></text>
<text transform="translate(650.18,35.90) scale(0.945,1)" font-size="27.00" fill="#111" >Co (mg kg<tspan font-size="16" dx="5.4" dy="-4.3">-1</tspan><tspan font-size="27" dx="1.7" dy="4.3">)</tspan></text>
<text transform="translate(1054.13,35.30) scale(0.945,1)" font-size="27.00" fill="#111" >Ni (mg kg<tspan font-size="16" dx="5.4" dy="-4.3">-1</tspan><tspan font-size="27" dx="1.7" dy="4.3">)</tspan></text>
<text transform="translate(248.08,534.80) scale(0.945,1)" font-size="27.00" fill="#111" >Cu (mg kg<tspan font-size="16" dx="5.4" dy="-4.3">-1</tspan><tspan font-size="27" dx="1.7" dy="4.3">)</tspan></text>
<text transform="translate(652.12,535.20) scale(0.945,1)" font-size="27.00" fill="#111" >Zn (mg kg<tspan font-size="16" dx="5.4" dy="-4.3">-1</tspan><tspan font-size="27" dx="1.7" dy="4.3">)</tspan></text>
<text transform="translate(1055.23,532.40) scale(0.945,1)" font-size="27.00" fill="#111" >Pb (mg kg<tspan font-size="16" dx="5.4" dy="-4.3">-1</tspan><tspan font-size="27" dx="1.7" dy="4.3">)</tspan></text>
<rect x="273.35" y="62.85" width="28.60" height="15.70" fill="#33913a" stroke="#555" stroke-width="0.9"/>
<text transform="translate(312.40,75.70) scale(0.980,1)" font-size="18.80" fill="#111" >2.1 - 8.4</text>
<rect x="273.35" y="85.75" width="28.60" height="15.50" fill="#7fbf5f" stroke="#555" stroke-width="0.9"/>
<text transform="translate(312.40,99.10) scale(0.980,1)" font-size="18.80" fill="#111" >8.4 - 14</text>
<rect x="273.35" y="107.65" width="28.60" height="15.30" fill="#d3e5a0" stroke="#555" stroke-width="0.9"/>
<text transform="translate(312.40,120.90) scale(0.980,1)" font-size="18.80" fill="#111" >14 - 19</text>
<rect x="273.35" y="129.55" width="28.60" height="15.30" fill="#f8c991" stroke="#555" stroke-width="0.9"/>
<text transform="translate(312.40,142.70) scale(0.980,1)" font-size="18.80" fill="#111" >19 - 26</text>
<rect x="273.35" y="151.65" width="28.60" height="14.60" fill="#e0714c" stroke="#555" stroke-width="0.9"/>
<text transform="translate(312.40,165.60) scale(0.980,1)" font-size="18.80" fill="#111" >26 - 34</text>
<rect x="273.35" y="173.35" width="28.60" height="14.80" fill="#b91619" stroke="#555" stroke-width="0.9"/>
<text transform="translate(312.40,187.10) scale(0.980,1)" font-size="18.80" fill="#111" >34 - 62</text>
<rect x="660.85" y="64.05" width="28.60" height="15.50" fill="#33913a" stroke="#555" stroke-width="0.9"/>
<text transform="translate(704.50,77.60) scale(0.980,1)" font-size="18.80" fill="#111" >3.9 - 6.7</text>
<rect x="660.85" y="86.95" width="28.60" height="14.90" fill="#7fbf5f" stroke="#555" stroke-width="0.9"/>
<text transform="translate(704.50,100.80) scale(0.980,1)" font-size="18.80" fill="#111" >6.7 - 8.0</text>
<rect x="660.85" y="108.95" width="28.60" height="15.00" fill="#d3e5a0" stroke="#555" stroke-width="0.9"/>
<text transform="translate(704.50,122.10) scale(0.980,1)" font-size="18.80" fill="#111" >8.0 - 9.9</text>
<rect x="660.85" y="130.75" width="28.60" height="15.00" fill="#f8c991" stroke="#555" stroke-width="0.9"/>
<text transform="translate(704.50,143.70) scale(0.980,1)" font-size="18.80" fill="#111" >9.9 - 15</text>
<rect x="660.85" y="152.75" width="28.60" height="14.70" fill="#e0714c" stroke="#555" stroke-width="0.9"/>
<text transform="translate(704.50,165.30) scale(0.980,1)" font-size="18.80" fill="#111" >15 - 26</text>
<rect x="660.85" y="174.45" width="28.60" height="14.70" fill="#b91619" stroke="#555" stroke-width="0.9"/>
<text transform="translate(704.50,187.60) scale(0.980,1)" font-size="18.80" fill="#111" >26 - 41</text>
<rect x="1067.85" y="63.85" width="28.60" height="15.70" fill="#33913a" stroke="#555" stroke-width="0.9"/>
<text transform="translate(1109.00,77.40) scale(0.980,1)" font-size="18.80" fill="#111" >8.2 - 12</text>
<rect x="1067.85" y="86.85" width="28.60" height="15.00" fill="#7fbf5f" stroke="#555" stroke-width="0.9"/>
<text transform="translate(1109.00,100.10) scale(0.980,1)" font-size="18.80" fill="#111" >12 - 16</text>
<rect x="1067.85" y="108.45" width="28.60" height="15.10" fill="#d3e5a0" stroke="#555" stroke-width="0.9"/>
<text transform="translate(1109.00,122.40) scale(0.980,1)" font-size="18.80" fill="#111" >16 - 20</text>
<rect x="1067.85" y="130.45" width="28.60" height="15.00" fill="#f8c991" stroke="#555" stroke-width="0.9"/>
<text transform="translate(1109.00,144.00) scale(0.980,1)" font-size="18.80" fill="#111" >20 - 26</text>
<rect x="1067.85" y="152.35" width="28.60" height="14.70" fill="#e0714c" stroke="#555" stroke-width="0.9"/>
<text transform="translate(1109.00,165.60) scale(0.980,1)" font-size="18.80" fill="#111" >26 - 40</text>
<rect x="1067.85" y="173.75" width="28.60" height="14.60" fill="#b91619" stroke="#555" stroke-width="0.9"/>
<text transform="translate(1109.00,186.90) scale(0.980,1)" font-size="18.80" fill="#111" >40 - 68</text>
<rect x="251.45" y="562.95" width="28.60" height="15.30" fill="#33913a" stroke="#555" stroke-width="0.9"/>
<text transform="translate(293.10,576.10) scale(0.980,1)" font-size="18.80" fill="#111" >61 - 355</text>
<rect x="251.45" y="585.55" width="28.60" height="15.70" fill="#7fbf5f" stroke="#555" stroke-width="0.9"/>
<text transform="translate(293.10,600.00) scale(0.980,1)" font-size="18.80" fill="#111" >355 - 639</text>
<rect x="251.45" y="608.25" width="28.60" height="15.00" fill="#d3e5a0" stroke="#555" stroke-width="0.9"/>
<text transform="translate(293.10,622.20) scale(0.980,1)" font-size="18.80" fill="#111" >639 - 1192</text>
<rect x="251.45" y="630.45" width="28.60" height="15.50" fill="#f8c991" stroke="#555" stroke-width="0.9"/>
<text transform="translate(293.10,644.60) scale(0.980,1)" font-size="18.80" fill="#111" >1192 - 2659</text>
<rect x="251.45" y="652.65" width="28.60" height="15.40" fill="#e0714c" stroke="#555" stroke-width="0.9"/>
<text transform="translate(293.10,666.80) scale(0.980,1)" font-size="18.80" fill="#111" >2659 - 6764</text>
<rect x="251.45" y="674.45" width="28.60" height="15.10" fill="#b91619" stroke="#555" stroke-width="0.9"/>
<text transform="translate(293.10,688.10) scale(0.980,1)" font-size="18.80" fill="#111" >6764 - 11425</text>
<rect x="661.85" y="562.95" width="28.60" height="15.00" fill="#33913a" stroke="#555" stroke-width="0.9"/>
<text transform="translate(704.50,576.10) scale(0.980,1)" font-size="18.80" fill="#111" >18 - 62</text>
<rect x="661.85" y="585.55" width="28.60" height="14.70" fill="#7fbf5f" stroke="#555" stroke-width="0.9"/>
<text transform="translate(704.50,598.80) scale(0.980,1)" font-size="18.80" fill="#111" >62 - 97</text>
<rect x="661.85" y="607.25" width="28.60" height="14.70" fill="#d3e5a0" stroke="#555" stroke-width="0.9"/>
<text transform="translate(704.50,620.80) scale(0.980,1)" font-size="18.80" fill="#111" >97 - 174</text>
<rect x="661.85" y="628.75" width="28.60" height="14.70" fill="#f8c991" stroke="#555" stroke-width="0.9"/>
<text transform="translate(704.50,642.40) scale(0.980,1)" font-size="18.80" fill="#111" >174 - 278</text>
<rect x="661.85" y="650.35" width="28.60" height="14.70" fill="#e0714c" stroke="#555" stroke-width="0.9"/>
<text transform="translate(704.50,664.70) scale(0.980,1)" font-size="18.80" fill="#111" >278 - 365</text>
<rect x="661.85" y="671.65" width="28.60" height="14.70" fill="#b91619" stroke="#555" stroke-width="0.9"/>
<text transform="translate(704.50,685.30) scale(0.980,1)" font-size="18.80" fill="#111" >365 - 768</text>
<rect x="1070.45" y="560.55" width="28.60" height="15.40" fill="#33913a" stroke="#555" stroke-width="0.9"/>
<text transform="translate(1109.70,573.90) scale(0.980,1)" font-size="18.80" fill="#111" >1.5 - 5.1</text>
<rect x="1070.45" y="583.55" width="28.60" height="15.10" fill="#7fbf5f" stroke="#555" stroke-width="0.9"/>
<text transform="translate(1109.70,597.60) scale(0.980,1)" font-size="18.80" fill="#111" >5.1 - 7.7</text>
<rect x="1070.45" y="605.65" width="28.60" height="15.30" fill="#d3e5a0" stroke="#555" stroke-width="0.9"/>
<text transform="translate(1109.70,619.90) scale(0.980,1)" font-size="18.80" fill="#111" >7.7 - 11</text>
<rect x="1070.45" y="627.95" width="28.60" height="15.10" fill="#f8c991" stroke="#555" stroke-width="0.9"/>
<text transform="translate(1109.70,642.10) scale(0.980,1)" font-size="18.80" fill="#111" >11 - 14</text>
<rect x="1070.45" y="649.95" width="28.60" height="15.40" fill="#e0714c" stroke="#555" stroke-width="0.9"/>
<text transform="translate(1109.70,664.60) scale(0.980,1)" font-size="18.80" fill="#111" >14 - 27</text>
<rect x="1070.45" y="671.85" width="28.60" height="15.20" fill="#b91619" stroke="#555" stroke-width="0.9"/>
<text transform="translate(1109.70,685.10) scale(0.980,1)" font-size="18.80" fill="#111" >27 - 193</text>
<ellipse cx="47.1" cy="64.4" rx="19.6" ry="17.4" fill="none" stroke="#222" stroke-width="1.2"/>
<line x1="27.8" y1="64.4" x2="66.5" y2="64.4" stroke="#222" stroke-width="1.1"/>
<path d="M46.9,18.2 C45,35 40,65 36.9,91.6 L47.3,86.8 L59.2,91.6 C55,65 49,35 46.9,18.2 Z" fill="#000"/>
<rect x="233.9" y="356" width="161.6" height="128" fill="#fff" stroke="#444" stroke-width="1.3"/>
<rect x="245.5" y="367.6" width="31" height="15.8" fill="#f8e1a0"/>
<polygon points="245.5,367.6 264.9,367.6 264,371 263.1,374.9 261.6,377.9 259.8,380.9 258.9,383.4 245.5,383.4" fill="#efab77"/>
<polygon points="245.5,367.6 258,367.6 257.1,370.4 255,372.2 252.9,374 250.5,376.1 249.3,377.9 249,380.6 249.3,383.4 245.5,383.4" fill="#e37a4f"/>
<rect x="245.5" y="367.6" width="31" height="15.8" fill="none" stroke="#7d7468" stroke-width="0.9"/>
<path d="M256.4,390.6h5.2v4.9h5.6v5.4h-5.6v4.9h-5.2v-4.9h-5.6v-5.4h5.6z" fill="#fff" stroke="#222" stroke-width="1.1" stroke-linejoin="round"/>
<rect x="244.8" y="419.2" width="31" height="15" fill="#fff" stroke="#444" stroke-width="1.3"/>
<circle cx="260.6" cy="454.9" r="8.4" fill="#fff" stroke="#333" stroke-width="0.9"/><circle cx="260.6" cy="454.9" r="2.2" fill="#000"/>
<text transform="translate(285.60,381.20) scale(0.975,1)" font-size="16.50" fill="#111" >S-2014</text>
<text transform="translate(285.60,405.30) scale(0.975,1)" font-size="16.50" fill="#111" >S-2020</text>
<text transform="translate(286.00,432.60) scale(0.975,1)" font-size="16.50" fill="#111" >Tocopilla Limit</text>
<text transform="translate(286.10,457.00) scale(0.975,1)" font-size="16.50" fill="#111" >AES Gener</text>
<text transform="translate(287.40,476.60) scale(0.975,1)" font-size="16.50" fill="#111" >Thermoelectric</text>
<g stroke="#2a2a2a" stroke-width="1.2" fill="none"><path d="M75.6,463.3V453.8H199.6V463.3"/><path d="M91.2,453.8V460.6"/><path d="M106.8,453.8V460.6"/><path d="M122.8,453.8V460.6"/><path d="M153.5,453.8V460.6"/><path d="M169.1,453.8V460.6"/><path d="M184.7,453.8V460.6"/><path d="M138.4,453.8V463.3"/></g>
<text transform="translate(72.30,479.40) scale(1.000,1)" font-size="13.00" fill="#333" >0</text>
<text transform="translate(95.00,479.40) scale(1.000,1)" font-size="13.00" fill="#333" >0.75</text>
<text transform="translate(131.80,479.40) scale(0.860,1)" font-size="13.00" fill="#6b4a35" >1.5</text>
<text transform="translate(196.10,479.40) scale(1.000,1)" font-size="13.00" fill="#333" >3 Km</text>
<text transform="translate(24.65,150.50) scale(0.845,1)" font-size="17.60" fill="#111" >484 mg kg<tspan font-size="10" dx="4.4" dy="-4.5">-1</tspan><tspan font-size="10.5" dx="4.4" dy="0.5">*</tspan></text>
<polyline points="111.5,148.3 132.0,148.3" fill="none" stroke="#222" stroke-width="1"/>
<text transform="translate(614.35,212.50) scale(0.845,1)" font-size="17.60" fill="#111" >145 mg kg<tspan font-size="10" dx="4.4" dy="-4.5">-1</tspan><tspan font-size="10.5" dx="4.4" dy="0.5">*</tspan></text>
<polyline points="591.8,193.7 608.3,198.7" fill="none" stroke="#222" stroke-width="1"/>
<text transform="translate(842.55,45.60) scale(0.845,1)" font-size="17.60" fill="#111" >99 mg kg<tspan font-size="10" dx="4.4" dy="-4.5">-1</tspan><tspan font-size="10.5" dx="4.4" dy="0.5">*</tspan></text>
<polyline points="927.1,38.5 949.7,38.5" fill="none" stroke="#222" stroke-width="1"/>
<text transform="translate(842.15,83.80) scale(0.845,1)" font-size="17.60" fill="#111" >125 mg kg<tspan font-size="10" dx="4.4" dy="-4.5">-1</tspan><tspan font-size="10.5" dx="4.4" dy="0.5">*</tspan></text>
<polyline points="928.5,75.3 990.8,50.2" fill="none" stroke="#222" stroke-width="1"/>
<text transform="translate(436.65,592.00) scale(0.845,1)" font-size="17.60" fill="#111" >1803 mg kg<tspan font-size="10" dx="4.4" dy="-4.5">-1</tspan><tspan font-size="10.5" dx="4.4" dy="0.5">*</tspan></text>
<polyline points="522.8,589.9 542.0,597.0" fill="none" stroke="#222" stroke-width="1"/>
<text transform="translate(423.95,646.60) scale(0.845,1)" font-size="17.60" fill="#111" >2020 mg kg<tspan font-size="10" dx="4.4" dy="-4.5">-1</tspan><tspan font-size="10.5" dx="4.4" dy="0.5">*</tspan></text>
<polyline points="511.5,646.6 532.0,650.1" fill="none" stroke="#222" stroke-width="1"/>
<text transform="translate(423.95,695.50) scale(0.845,1)" font-size="17.60" fill="#111" >2942 mg kg<tspan font-size="10" dx="4.4" dy="-4.5">-1</tspan><tspan font-size="10.5" dx="4.4" dy="0.5">*</tspan></text>
<polyline points="495.9,701.9 516.5,708.3" fill="none" stroke="#222" stroke-width="1"/>
<text transform="translate(558.75,765.50) scale(0.845,1)" font-size="17.60" fill="#111" >1344 mg kg<tspan font-size="10" dx="1.5" dy="-11">-1</tspan><tspan font-size="10.5" dx="4" dy="-0.5">*</tspan></text>
<polyline points="534.0,732.3 556.8,746.3" fill="none" stroke="#222" stroke-width="1"/>
<g><rect x="3.2" y="0" width="472.8" height="2" fill="#7f7f7f"/><rect x="476" y="0" width="722" height="1.6" fill="#a4a4a4"/><rect x="2.75" y="1" width="1.4" height="984.3" fill="#959595"/><rect x="1197.8" y="1" width="1.4" height="984.3" fill="#959595"/><rect x="1199.2" y="0" width="0.8" height="987" fill="#c8c8c8"/><rect x="2.75" y="983.95" width="1196.4" height="1.4" fill="#949494"/><rect x="397.4" y="0" width="1.4" height="985" fill="#a8a8a8"/><rect x="802.4" y="0" width="1.4" height="985" fill="#a8a8a8"/><rect x="2.75" y="490.55" width="1196.4" height="1.4" fill="#a9a8a5"/></g>
</svg></body></html>
